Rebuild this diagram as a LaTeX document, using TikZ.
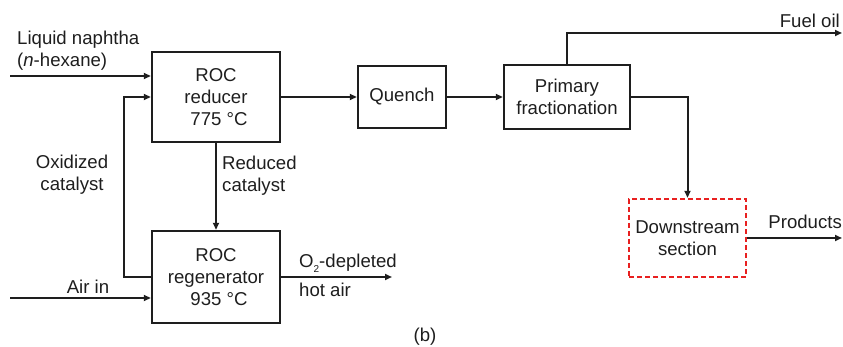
\documentclass[tikz,border=0pt]{standalone}
\usepackage{fontspec}
\setmainfont{Liberation Sans}
\usetikzlibrary{arrows.meta}
\definecolor{dashred}{RGB}{232,32,32}
\definecolor{ink}{RGB}{30,30,30}
\begin{document}
\begin{tikzpicture}[x=1pt,y=-1pt,
  font=\fontsize{18.6}{22}\selectfont, text=ink,
  box/.style={draw=ink, line width=2.4pt, inner sep=0pt, align=center},
  arr/.style={draw=ink, line width=2pt, -{Triangle[length=7pt,width=6pt]}},
  lbl/.style={inner sep=0pt}]
\useasboundingbox (0,0) rectangle (843,347);
% boxes
\node[box, minimum width=128pt, minimum height=90pt] (red) at (216,97) {ROC\\reducer\\\hspace*{6pt}775 °C};
\node[box, minimum width=128pt, minimum height=92pt] (regen) at (216,277) {ROC\\regenerator\\\hspace*{6pt}935 °C};
\node[box, minimum width=88pt, minimum height=62pt] (quench) at (402,97) {Quench};
\node[box, minimum width=126pt, minimum height=64pt] (prim) at (567,97) {Primary\\fractionation};
\node[box, draw=dashred, dash pattern=on 5pt off 3pt, minimum width=117pt, minimum height=78pt] (down) at (687.5,238) {Downstream\\section};
% free ends
\coordinate (naph) at (10,76);
\coordinate (air) at (10,298);
\coordinate (o2) at (392,277);
\coordinate (fuel) at (842,33);
\coordinate (prod) at (842,238);
% connectors
\draw[arr] (naph) -- (naph -| red.west);
\draw[arr] (regen.west) -- ++(-27,0) |- (red.west);
\draw[arr] (air) -- (air -| regen.west);
\draw[arr] (red.south) -- (regen.north);
\draw[arr] (regen.east) -- (o2);
\draw[arr] (red.east) -- (quench.west);
\draw[arr] (quench.east) -- (prim.west);
\draw[arr] (prim.north) |- (fuel);
\draw[arr] (prim.east) -| (down.north);
\draw[arr] (down.east) -- (prod);
% labels
\node[lbl, anchor=west, align=left] (lnaph) at (17,51) {Liquid naphtha\\(\textit{n}-hexane)};
\node[lbl, align=center] (lox) at (72,175) {Oxidized\\catalyst};
\node[lbl, anchor=west, align=left] (lred) at (222,176) {Reduced\\catalyst};
\node[lbl] (lair) at (88,287) {Air in};
\node[lbl, anchor=west] (lo2) at (299,263) {O\raisebox{-5pt}{\fontsize{10}{10}\selectfont 2}-depleted};
\node[lbl, anchor=west] (lhot) at (299,290) {hot air};
\node[lbl, anchor=east] (lfuel) at (840,21) {Fuel oil};
\node[lbl, anchor=east] (lprod) at (842,222) {Products};
\node[lbl] (lb) at (425,337) {(b)};
\end{tikzpicture}
\end{document}
